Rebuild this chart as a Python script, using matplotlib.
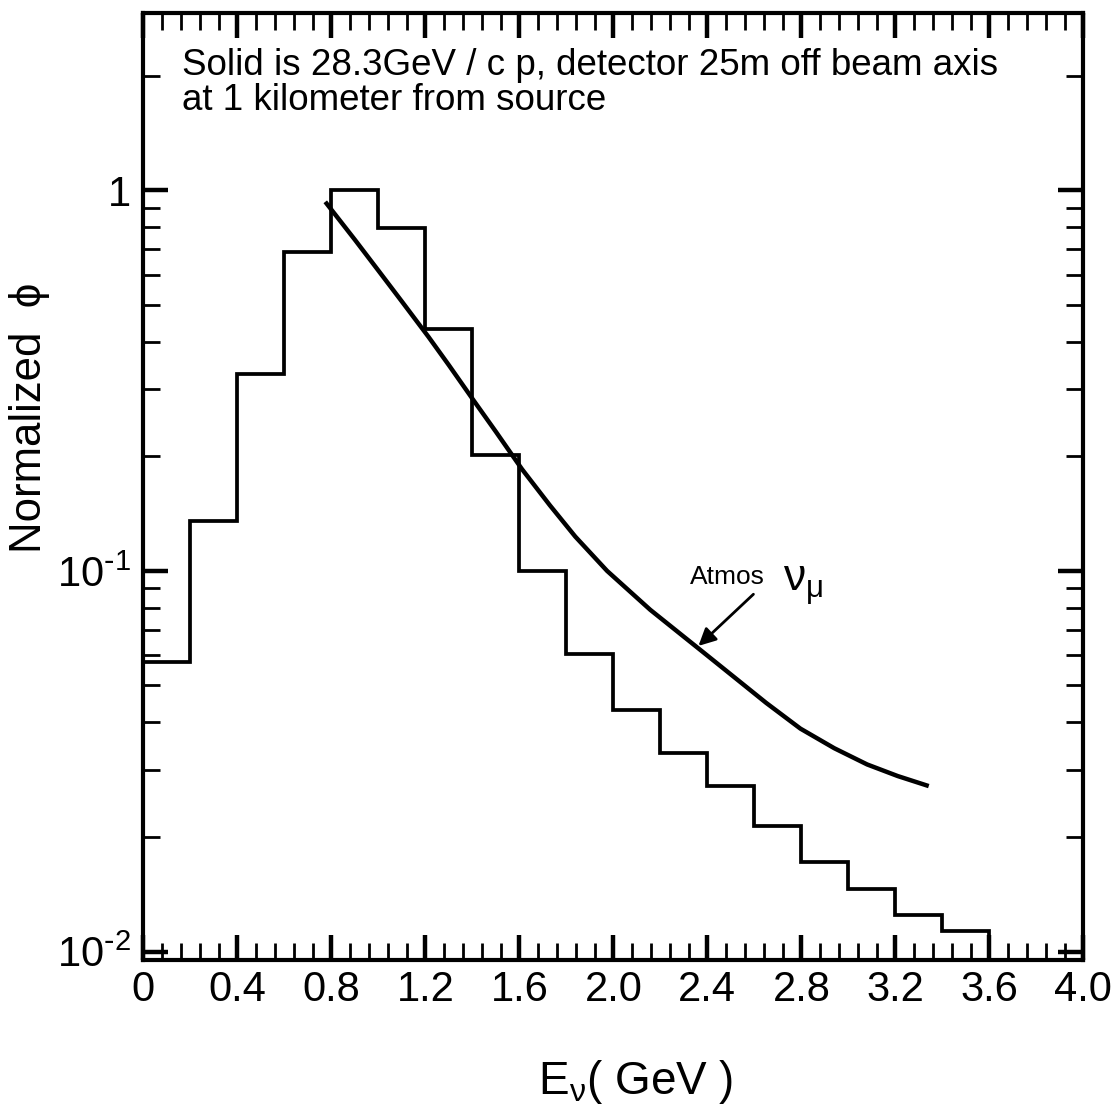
import numpy as np
import matplotlib
matplotlib.use('Agg')
import matplotlib.pyplot as plt
from matplotlib.ticker import MultipleLocator, FixedLocator, FuncFormatter, LogLocator, NullFormatter

plt.rcParams['font.family'] = ['Liberation Sans', 'DejaVu Sans']
plt.rcParams['mathtext.default'] = 'regular'

# histogram: 28.3 GeV/c protons, detector 25m off axis, 1 km from source
bin_edges = [0.0, 0.2, 0.4, 0.6, 0.8, 1.0, 1.2, 1.4, 1.6, 1.8, 2.0,
             2.2, 2.4, 2.6, 2.8, 3.0, 3.2, 3.4, 3.6]
flux = [0.0575, 0.135, 0.328, 0.687, 1.0, 0.797, 0.433, 0.201, 0.100,
        0.0603, 0.0431, 0.0333, 0.0272, 0.0214, 0.0172, 0.0146, 0.0125, 0.0113]

# atmospheric nu_mu curve
atm_e = [0.774, 0.90, 1.00, 1.10, 1.213, 1.30, 1.405, 1.50, 1.611, 1.73, 1.838, 1.973,
         2.157, 2.384, 2.512, 2.65, 2.796, 2.94, 3.08, 3.21, 3.342]
atm_flux = [0.932, 0.741, 0.615, 0.51, 0.412, 0.347, 0.2805, 0.232, 0.185, 0.1486, 0.123,
            0.100, 0.079, 0.061, 0.0527, 0.045, 0.0385, 0.0342, 0.031, 0.0289, 0.0272]

ymin, ymax = 0.0095, 2.92

fig = plt.figure(figsize=(11.2, 11.12), dpi=100)
ax = fig.add_axes([0.128, 0.1367, 0.8393, 0.8516])

ax.stairs(flux, bin_edges, baseline=1e-3, color='black', lw=2.7)
ax.plot(atm_e, atm_flux, color='black', lw=3.2, solid_capstyle='butt', solid_joinstyle='round')

ax.set_yscale('log')
ax.set_xlim(0, 4.0)
ax.set_ylim(ymin, ymax)

# ticks
ax.xaxis.set_major_locator(MultipleLocator(0.4))
ax.xaxis.set_minor_locator(MultipleLocator(0.08))
ax.xaxis.set_major_formatter(FuncFormatter(lambda v, p: '0' if abs(v) < 1e-9 else '%.1f' % v))
ax.yaxis.set_major_locator(FixedLocator([0.01, 0.1, 1.0]))
ax.yaxis.set_major_formatter(FuncFormatter(
    lambda v, p: '1' if v > 0.5 else (r'$10^{\text{-}1}$' if v > 0.05 else r'$10^{\text{-}2}$')))
ax.yaxis.set_minor_locator(LogLocator(base=10, subs=np.arange(2, 10), numticks=20))
ax.yaxis.set_minor_formatter(NullFormatter())

ax.tick_params(which='both', direction='in', top=True, right=True, labelsize=30)
ax.tick_params(which='major', length=18, width=3.2)
ax.tick_params(which='minor', length=12, width=2.0)
ax.tick_params(axis='x', which='major', pad=7)
ax.tick_params(axis='y', which='major', pad=9)
for s in ax.spines.values():
    s.set_linewidth(3.0)

# labels
ax.text(-0.1215, 0.573, 'Normalized  \u03d5', rotation=90, ha='center', va='center',
        fontsize=31.5, transform=ax.transAxes)
ax.text(0.524, -0.103, r'$E_{\nu}$( GeV )', ha='center', va='top',
        fontsize=33, transform=ax.transAxes)

# caption inside the plot
ax.text(0.0415, 0.9345, 'Solid is 28.3GeV / c p, detector 25m off beam axis',
        fontsize=26.5, va='baseline', transform=ax.transAxes)
ax.text(0.0415, 0.8976, 'at 1 kilometer from source',
        fontsize=26.5, va='baseline', transform=ax.transAxes)

# annotation for the atmospheric curve
ax.annotate('', xy=(2.362, 0.0635), xytext=(2.596, 0.0868),
            arrowprops=dict(arrowstyle='-|>', color='black', lw=2.0, mutation_scale=26,
                            shrinkA=0, shrinkB=0))
ax.text(2.327, 0.0922, 'Atmos', fontsize=19, va='baseline')
ax.text(2.72, 0.0880, r'$\nu_{\mu}$', fontsize=32, va='baseline')

fig.savefig('out.png', dpi=100)
